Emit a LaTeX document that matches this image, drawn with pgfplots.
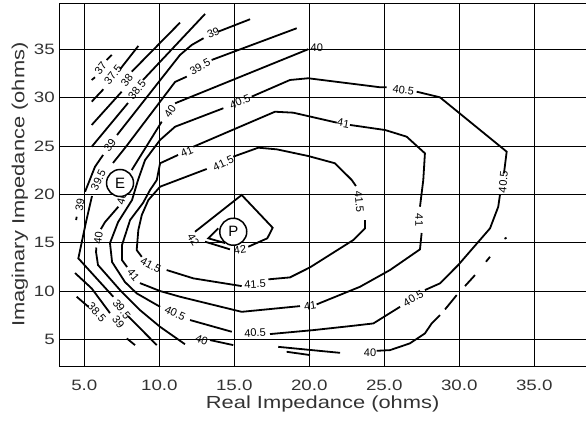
\documentclass[border=0pt]{standalone}
\usepackage{pgfplots}
\pgfplotsset{compat=1.18}
\usepackage{fontspec}
\setmainfont{Liberation Sans}
\newfontfamily\widefont{Liberation Sans}[FakeStretch=1.25]
\begin{document}
\begin{tikzpicture}[x=1pt,y=1pt]
\begin{axis}[
  scale only axis,
  width=526.7pt, height=362.7pt,
  xmin=3.33, xmax=38.45, ymin=2.25, ymax=39.75,
  xtick={5,10,15,20,25,30,35},
  xticklabels={5.0,10.0,15.0,20.0,25.0,30.0,35.0},
  ytick={5,10,15,20,25,30,35},
  yticklabels={5,10,15,20,25,30,35},
  major tick length=0pt,
  grid=major,
  major grid style={black, line width=0.9pt},
  axis line style={black, line width=0.9pt},
  tick label style={font=\widefont\fontsize{15}{15}\selectfont, text=black!80},
  xticklabel style={yshift=-10pt},
  yticklabel style={xshift=-1pt},
  label style={font=\widefont\fontsize{17.5}{17.5}\selectfont, text=black!80},
  xlabel={Real Impedance (ohms)},
  ylabel={Imaginary Impedance (ohms)},
  xlabel style={yshift=1pt},
  ylabel style={yshift=-1pt},
  every axis plot post/.append style={black, solid, line width=1.8pt, mark=none},
  clip=true,
]
% contour 37
\addplot coordinates {(5.49,31.82) (5.71,32.10)};
\addplot coordinates {(6.49,33.89) (6.83,34.41)};
% contour 37.5
\addplot coordinates {(5.49,29.58) (6.27,30.86)};
\addplot coordinates {(7.38,32.93) (8.60,35.34)};
% contour 38
\addplot coordinates {(5.49,27.17) (7.49,30.61)};
\addplot coordinates {(8.16,32.68) (11.38,37.75)};
% contour 38.5
\addplot coordinates {(5.49,24.92) (7.91,29.44)};
\addplot coordinates {(8.91,31.82) (13.05,38.65)};
\addplot coordinates {(4.49,9.41) (5.27,8.37)};
% contour 39
\addplot coordinates {(16.05,38.10) (13.93,36.82)};
\addplot coordinates {(12.95,36.14) (12.16,35.44) (11.38,34.41) (7.18,26.13)};
\addplot coordinates {(6.25,24.07) (5.71,22.85) (5.05,20.27)};
\addplot coordinates {(4.49,17.68) (4.45,17.34)};
\addplot coordinates {(4.38,11.86) (5.49,10.27) (6.71,7.72)};
\addplot coordinates {(7.83,5.10) (8.38,4.41)};
% contour 39.5
\addplot coordinates {(19.16,37.17) (13.49,33.89)};
\addplot coordinates {(11.83,32.17) (11.05,31.62) (7.71,24.79) (6.91,23.24)};
\addplot coordinates {(5.51,19.82) (5.11,17.13) (4.60,13.38) (6.93,9.41)};
\addplot coordinates {(7.91,7.41) (9.83,4.41)};
% contour 40
\addplot coordinates {(22.05,3.61) (17.93,4.23)};
\addplot coordinates {(24.49,3.82) (25.38,3.89) (26.71,4.59) (27.71,5.62) (28.16,6.65) (28.71,7.51)};
\addplot coordinates {(29.05,8.10) (29.83,9.58)};
\addplot coordinates {(30.38,10.51) (31.05,11.65)};
\addplot coordinates {(31.78,13.03) (32.05,13.54)};
\addplot coordinates {(33.02,15.40) (33.15,15.52)};
\addplot coordinates {(18.49,3.72) (20.05,3.38)};
\addplot coordinates {(13.38,4.93) (14.93,4.41)};
\addplot coordinates {(19.93,35.00) (11.05,29.41)};
\addplot coordinates {(10.16,27.51) (8.16,22.51)};
\addplot coordinates {(7.27,18.72) (6.38,17.13) (6.10,16.40)};
\addplot coordinates {(5.80,14.50) (5.78,14.03) (5.91,12.69) (7.38,10.10) (8.71,8.03) (10.05,6.30) (11.71,4.50)};
% contour 40.5
\addplot coordinates {(14.27,28.90) (11.05,26.99) (10.05,25.62) (9.05,23.55) (8.58,21.48) (8.18,19.41) (7.25,17.13) (6.71,14.96) (6.85,13.00) (7.71,10.93) (8.49,9.76) (10.05,8.37)};
\addplot coordinates {(12.05,7.00) (14.83,5.79)};
\addplot coordinates {(17.38,5.55) (20.27,5.96) (22.93,6.41) (24.27,6.65) (26.05,8.37)};
\addplot coordinates {(27.71,10.10) (28.71,10.79) (29.93,12.69) (32.05,16.48) (32.60,18.72) (32.71,19.93)};
\addplot coordinates {(32.98,22.17) (33.16,24.41) (28.71,30.03) (27.16,30.61)};
\addplot coordinates {(25.16,31.07) (24.71,31.07) (19.93,32.00) (18.71,31.82) (16.16,30.10)};
% contour 41
\addplot coordinates {(12.27,24.92) (17.71,28.54) (18.93,28.44) (21.83,27.41)};
\addplot coordinates {(22.71,27.17) (25.05,26.65) (26.49,25.96) (27.71,24.24) (27.60,21.48) (27.38,18.72)};
\addplot coordinates {(27.49,16.00) (27.38,14.31) (25.38,12.17) (23.38,10.44) (20.49,8.62)};
\addplot coordinates {(19.38,8.44) (15.49,7.85) (11.38,9.41) (10.05,10.00) (8.71,10.82)};
\addplot coordinates {(7.85,12.48) (7.51,13.20) (7.51,14.75) (8.05,17.34) (8.91,19.10) (9.38,20.44) (9.83,21.48) (10.05,23.21) (11.25,24.07)};
% contour 41.5
\addplot coordinates {(13.16,22.62) (10.05,20.79) (9.27,19.41) (8.83,17.86) (8.60,16.31) (8.49,14.24) (8.83,13.54)};
\addplot coordinates {(10.49,12.17) (12.27,11.31) (15.49,10.51)};
\addplot coordinates {(17.27,11.21) (18.71,11.41) (20.05,12.45) (22.93,15.27) (23.71,16.48) (23.71,17.34)};
\addplot coordinates {(23.11,20.86) (22.83,21.48) (21.71,23.21) (19.93,23.96) (17.83,24.65) (16.60,24.82) (14.93,23.89)};
% contour 42
\addplot coordinates {(12.38,16.13) (15.49,19.93) (17.56,16.54) (17.20,15.45) (15.93,14.58)};
\addplot coordinates {(14.71,14.31) (13.05,15.10)};
% contour 42.5
\addplot coordinates {(13.93,16.48) (13.27,15.45) (14.38,14.96)};
% contour labels
\begin{scope}[every node/.style={font=\fontsize{11}{11}\selectfont, inner sep=0pt, text=black}]
\node[rotate=52] at (axis cs:6.09,33.03) {37};
\node[rotate=52] at (axis cs:6.91,32.34) {37.5};
\node[rotate=52] at (axis cs:7.83,31.82) {38};
\node[rotate=52] at (axis cs:8.51,30.79) {38.5};
\node[rotate=-48] at (axis cs:5.83,7.82) {38.5};
\node[rotate=22] at (axis cs:13.60,36.66) {39};
\node[rotate=52] at (axis cs:6.71,25.10) {39};
\node[rotate=80] at (axis cs:4.71,18.89) {39};
\node[rotate=-52] at (axis cs:7.27,6.82) {39};
\node[rotate=28] at (axis cs:12.71,33.20) {39.5};
\node[rotate=65] at (axis cs:5.93,21.48) {39.5};
\node[rotate=-52] at (axis cs:7.49,8.13) {39.5};
\node[rotate=0] at (axis cs:20.50,35.20) {40};
\node[rotate=55] at (axis cs:10.71,28.54) {40};
\node[rotate=75] at (axis cs:7.49,19.59) {40};
\node[rotate=82] at (axis cs:5.93,15.45) {40};
\node[rotate=0] at (axis cs:24.05,3.61) {40};
\node[rotate=-20] at (axis cs:12.83,4.93) {40};
\node[rotate=22] at (axis cs:15.38,29.58) {40.5};
\node[rotate=-7] at (axis cs:26.27,30.79) {40.5};
\node[rotate=85] at (axis cs:32.93,21.27) {40.5};
\node[rotate=30] at (axis cs:26.93,9.24) {40.5};
\node[rotate=3] at (axis cs:16.38,5.68) {40.5};
\node[rotate=-25] at (axis cs:11.05,7.69) {40.5};
\node[rotate=23] at (axis cs:11.83,24.41) {41};
\node[rotate=-10] at (axis cs:22.27,27.34) {41};
\node[rotate=-90] at (axis cs:27.33,17.34) {41};
\node[rotate=8] at (axis cs:20.05,8.44) {41};
\node[rotate=-50] at (axis cs:8.27,11.65) {41};
\node[rotate=25] at (axis cs:14.27,23.21) {41.5};
\node[rotate=-28] at (axis cs:9.43,12.69) {41.5};
\node[rotate=3] at (axis cs:16.38,10.72) {41.5};
\node[rotate=-85] at (axis cs:23.33,19.23) {41.5};
\node[rotate=8] at (axis cs:15.38,14.24) {42};
\node[rotate=-60] at (axis cs:12.27,15.27) {42};
\end{scope}
% marked points
\begin{scope}[every node/.style={circle, draw=black, line width=1.5pt, fill=white, minimum size=27pt, inner sep=0pt, font=\fontsize{15}{15}\selectfont}]
\node at (axis cs:7.38,21.17) {E};
\node at (axis cs:14.93,16.13) {P};
\end{scope}
\end{axis}
\pgfresetboundingbox
\path ([xshift=-59.3pt,yshift=-58pt]current axis.south west) rectangle ([xshift=0pt,yshift=3.3pt]current axis.north east);
\end{tikzpicture}
\end{document}
